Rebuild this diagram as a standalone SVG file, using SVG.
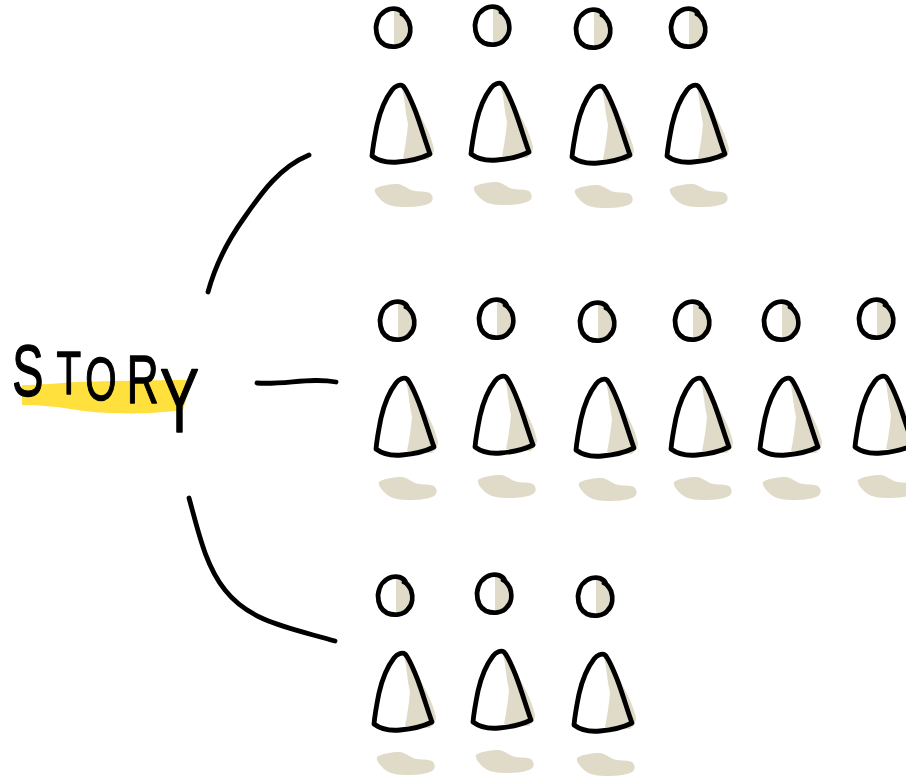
<svg xmlns="http://www.w3.org/2000/svg" xmlns:xlink="http://www.w3.org/1999/xlink" width="906" height="777" viewBox="0 0 906 777">
<style>
.ink{fill:none;stroke:#000;stroke-width:4.8;stroke-linecap:round;stroke-linejoin:round}
.shade{fill:#e0dbc9}
.hl{fill:#ffe03d}
.lbl{font-family:"Liberation Sans","DejaVu Sans",sans-serif;fill:#000;stroke:#000;stroke-width:1.4;stroke-linejoin:round}
</style>
<defs>
<g id="person">
<path class="shade" d="M394 11L403 12C409 17 411 24 410 33C408 40 402 45 394 44Z"/>
<path class="shade" d="M402 88C405 100 405 112 408 124C407 136 405 148 403 158L428 160C431 157 434 154 434 149C431 135 425 125 420 115C415 104 408 92 402 88Z"/>
<path class="shade" d="M375 189C378 186 390 184 398 184C405 185 408 190 415 191C421 192 429 191 431 194C434 198 433 202 428 204C420 207 410 207 403 207C392 207 384 204 380 199C377 196 374 192 375 189Z"/>
<path class="ink" d="M404 15C402 9 395 8 390 9C382 11 377 18 376 27C376 36 379 42 385 45C392 48 402 47 406 41C411 36 411 28 409 22C407 18 405 15 402 14"/>
<path class="ink" d="M372 156C373 145 375 135 377 125C380 112 385 99 392 90C395 86 400 84 403 86C407 90 411 100 415 110C420 123 425 140 430 154C422 158 410 161 398 162C388 163 380 162 372 156Z"/>
</g>
</defs>
<g id="highlight"><path class="hl" d="M22 385C40 385 60 383 75 382C110 381 150 380 192 380L183 410C160 413 135 414 117 413C100 413 90 412 77 410C60 407 40 405 22 405Z"/></g>
<g id="label">
<text class="lbl" transform="scale(0.65 1)" y="396"><tspan x="19" font-size="72">S</tspan><tspan x="87" y="394" font-size="62">T</tspan><tspan x="131" y="400" font-size="62">O</tspan><tspan x="195" y="403" font-size="68">R</tspan><tspan x="246" y="432" font-size="90">Y</tspan></text>
</g>
<g id="connectors">
<path class="ink" d="M208 292C214 270 226 243 244 218C262 192 280 167 309 155"/>
<path class="ink" d="M257 383C285 385 310 377 336 382"/>
<path class="ink" d="M189 498C198 530 205 565 225 590C250 622 290 628 335 641"/>
</g>
<g id="row1">
<use id="p1-1" href="#person" xlink:href="#person"/>
<use id="p1-2" href="#person" xlink:href="#person" x="99" y="-2"/>
<use id="p1-3" href="#person" xlink:href="#person" x="200" y="1"/>
<use id="p1-4" href="#person" xlink:href="#person" x="295" y="0"/>
</g>
<g id="row2">
<use id="p2-1" href="#person" xlink:href="#person" x="4" y="293"/>
<use id="p2-2" href="#person" xlink:href="#person" x="103" y="291"/>
<use id="p2-3" href="#person" xlink:href="#person" x="204" y="294"/>
<use id="p2-4" href="#person" xlink:href="#person" x="299" y="293"/>
<use id="p2-5" href="#person" xlink:href="#person" x="388" y="293"/>
<use id="p2-6" href="#person" xlink:href="#person" x="483" y="291"/>
</g>
<g id="row3">
<use id="p3-1" href="#person" xlink:href="#person" x="2" y="568"/>
<use id="p3-2" href="#person" xlink:href="#person" x="101" y="566"/>
<use id="p3-3" href="#person" xlink:href="#person" x="202" y="569"/>
</g>
</svg>
